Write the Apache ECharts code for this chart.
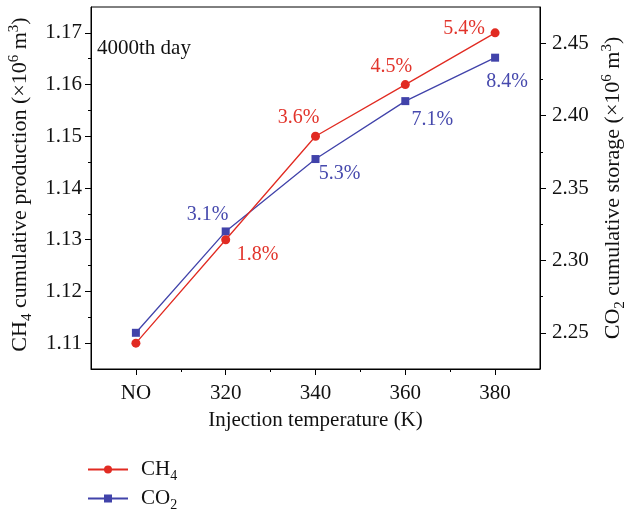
<!DOCTYPE html>
<html>
<head>
<meta charset="utf-8">
<script src="https://cdn.jsdelivr.net/npm/echarts@6/dist/echarts.min.js"></script>
<style>
  html, body { margin: 0; padding: 0; background: #fff; }
  #chart { width: 626px; height: 511px; }
</style>
</head>
<body>
<div id="chart"></div>
<script>
// Injection temperature categories (x positions 0..4)
const categories = ['NO', '320', '340', '360', '380'];
// CH4 cumulative production (×10^6 m^3), left axis
const ch4Production = [1.11, 1.13, 1.15, 1.16, 1.17];
// CO2 cumulative storage (×10^6 m^3), right axis
const co2Storage = [2.25, 2.32, 2.37, 2.41, 2.44];
// Axis tick values
const leftMajorTicks = [1.11, 1.12, 1.13, 1.14, 1.15, 1.16, 1.17];
const leftMinorTicks = [1.115, 1.125, 1.135, 1.145, 1.155, 1.165];
const rightMajorTicks = [2.25, 2.30, 2.35, 2.40, 2.45];
const rightMinorTicks = [2.275, 2.325, 2.375, 2.425];
const xMajorTicks = [0, 1, 2, 3, 4];
const xMinorTicks = [0.5, 1.5, 2.5, 3.5];

// Label placement (pixel offsets from each point's centre)
const ch4LabelOffsets = [null, [32, 15], [-17, -19], [-14, -18], [-31, -4]];
const co2LabelOffsets = [null, [-18, -17], [24, 15], [27, 19], [12, 24]];

const FONT = '"Liberation Serif", "Times New Roman", serif';
const RED = '#e12b22';
const BLUE = '#4143aa';
const RED_TEXT = '#e2342b';
const BLUE_TEXT = '#4649ad';
const TEXT = '#111';
const FS = 21;

// Percentage increase relative to the no-injection case
function pctLabels(values) {
  return values.map((v, i) => i === 0 ? '' : ((v / values[0] - 1) * 100).toFixed(1) + '%');
}

function buildSeriesData(values, offsets, color) {
  const labels = pctLabels(values);
  return values.map((v, i) => ({
    value: [i, v],
    label: i === 0 ? { show: false } : {
      show: true,
      position: 'inside',
      offset: offsets[i],
      formatter: labels[i],
      color: color,
      fontFamily: FONT,
      fontSize: 20
    }
  }));
}

function richStyles(size, small) {
  return {
    n: { fontFamily: FONT, fontSize: size, color: TEXT, lineHeight: 28, verticalAlign: 'middle' },
    sub: { fontFamily: FONT, fontSize: small, color: TEXT, lineHeight: 28, verticalAlign: 'bottom' },
    sup: { fontFamily: FONT, fontSize: small, color: TEXT, lineHeight: 28, verticalAlign: 'top' }
  };
}
const richAxisName = richStyles(22, 15);
const richLegend = richStyles(FS, 14);

function valueYAxis(pos, min, max, majorTicks, minorTicks, isMinor, name, nameGap, labelMargin, namePadding) {
  return {
    type: 'value',
    position: pos,
    min: min,
    max: max,
    name: isMinor ? '' : name,
    nameLocation: 'middle',
    nameRotate: 90,
    nameGap: nameGap,
    nameTextStyle: { rich: richAxisName, padding: namePadding },
    splitLine: { show: false },
    axisLine: { show: !isMinor, onZero: false, lineStyle: { color: '#000', width: 1 } },
    axisTick: {
      show: true,
      inside: false,
      length: isMinor ? 3 : 6,
      customValues: isMinor ? minorTicks : majorTicks,
      lineStyle: { color: '#000', width: 1 }
    },
    axisLabel: {
      show: !isMinor,
      customValues: majorTicks,
      margin: labelMargin,
      color: TEXT,
      fontFamily: FONT,
      fontSize: FS,
      formatter: v => (pos === 'right' ? v.toFixed(2) : String(+v.toFixed(2)))
    }
  };
}

function xAxisDef(isMinor) {
  return {
    type: 'value',
    position: 'bottom',
    min: -0.5,
    max: 4.5,
    name: isMinor ? '' : 'Injection temperature (K)',
    nameLocation: 'middle',
    nameGap: 41,
    nameTextStyle: { fontFamily: FONT, fontSize: FS, color: TEXT },
    splitLine: { show: false },
    axisLine: { show: !isMinor, onZero: false, lineStyle: { color: '#000', width: 1 } },
    axisTick: {
      show: true,
      length: isMinor ? 3 : 6,
      customValues: isMinor ? xMinorTicks : xMajorTicks,
      lineStyle: { color: '#000', width: 1 }
    },
    axisLabel: {
      show: !isMinor,
      customValues: xMajorTicks,
      margin: 14,
      color: TEXT,
      fontFamily: FONT,
      fontSize: FS,
      formatter: v => categories[Math.round(v)]
    }
  };
}

function legendDef(name, text, top) {
  return {
    orient: 'vertical',
    left: 82,
    top: top,
    itemWidth: 40,
    itemHeight: 10,
    data: [name],
    formatter: () => text,
    textStyle: { rich: richLegend, padding: [0, 0, 0, 8] }
  };
}

const chart = echarts.init(document.getElementById('chart'), null, { renderer: 'canvas' });

chart.setOption({
  animation: false,
  backgroundColor: '#fff',
  grid: {
    show: true,
    left: 91, right: 86, top: 7, bottom: 142,
    outerBoundsMode: 'none',
    containLabel: false,
    borderColor: '#000', borderWidth: 1,
    backgroundColor: 'transparent'
  },
  xAxis: [xAxisDef(false), xAxisDef(true)],
  yAxis: [
    valueYAxis('left', 1.105, 1.175, leftMajorTicks, leftMinorTicks, false,
      '{n|CH}{sub|4}{n| cumulative production (×10}{sup|6}{n| m}{sup|3}{n|)}', 56, 9, [0, 0, 0, 7]),
    valueYAxis('left', 1.105, 1.175, leftMajorTicks, leftMinorTicks, true, '', 0, 9, 0),
    valueYAxis('right', 2.225, 2.475, rightMajorTicks, rightMinorTicks, false,
      '{n|CO}{sub|2}{n| cumulative storage (×10}{sup|6}{n| m}{sup|3}{n|)}', 58, 12, 0),
    valueYAxis('right', 2.225, 2.475, rightMajorTicks, rightMinorTicks, true, '', 0, 12, 0)
  ],
  legend: [
    legendDef('CH4', '{n|CH}{sub|4}', 454),
    legendDef('CO2', '{n|CO}{sub|2}', 483)
  ],
  graphic: [{
    type: 'text',
    left: 97,
    top: 38,
    style: { text: '4000th day', font: FS + 'px ' + FONT, fill: TEXT }
  }],
  series: [
    {
      name: 'CH4',
      type: 'line',
      xAxisIndex: 0,
      yAxisIndex: 0,
      data: buildSeriesData(ch4Production, ch4LabelOffsets, RED_TEXT),
      symbol: 'circle',
      symbolSize: 9,
      itemStyle: { color: RED },
      lineStyle: { color: RED, width: 1.3 },
      z: 3
    },
    {
      name: 'CO2',
      type: 'line',
      xAxisIndex: 0,
      yAxisIndex: 2,
      data: buildSeriesData(co2Storage, co2LabelOffsets, BLUE_TEXT),
      symbol: 'rect',
      symbolSize: 8,
      itemStyle: { color: BLUE },
      lineStyle: { color: BLUE, width: 1.3 },
      z: 2
    }
  ]
});
</script>
</body>
</html>
